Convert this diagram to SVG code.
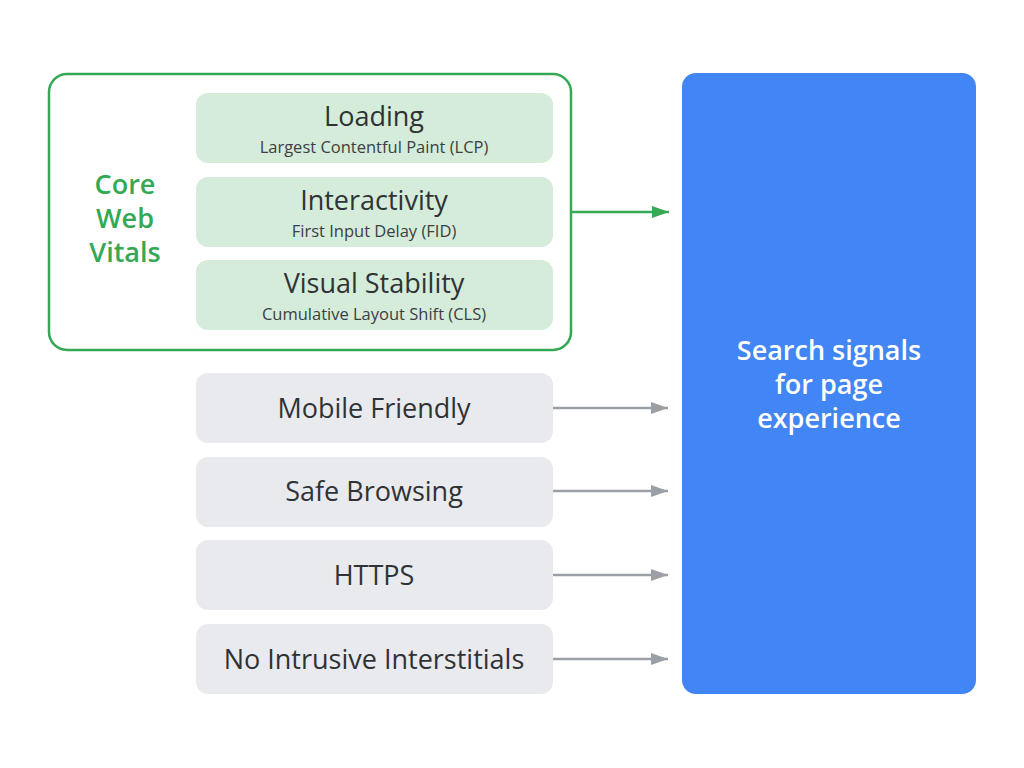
<svg xmlns="http://www.w3.org/2000/svg" width="1024" height="768" viewBox="0 0 1024 768">
<defs>
<marker id="ay" markerWidth="20" markerHeight="12" refX="17" refY="6" orient="auto" markerUnits="userSpaceOnUse"><path d="M0,0 L17,6 L0,12 Z" fill="#9aa0a6"/></marker>
<marker id="agr" markerWidth="20" markerHeight="12" refX="17" refY="6" orient="auto" markerUnits="userSpaceOnUse"><path d="M0,0 L17,6 L0,12 Z" fill="#34a853"/></marker>
<style>
text{font-family:"Open Sans","Liberation Sans",sans-serif;text-anchor:middle}
.cwv{fill:#d4ecd9}
.gray{fill:#e8eaed}
.t{font-size:27px;font-weight:500;fill:#303336}
.s{font-size:16.5px;font-weight:500;fill:#3c4043}
.g{font-size:27px;font-weight:600;fill:#34a853}
.w{font-size:27px;font-weight:600;fill:#ffffff}
</style>
</defs>
<rect width="1024" height="768" fill="#ffffff"/>
<g id="core-web-vitals">
<rect x="49" y="74" width="522" height="276" rx="18" fill="none" stroke="#34a853" stroke-width="2.5"/>
<text class="g" x="125" y="194">Core</text>
<text class="g" x="125" y="228">Web</text>
<text class="g" x="125" y="262">Vitals</text>
</g>
<g id="loading">
<rect class="cwv" x="196" y="93" width="357" height="70" rx="12"/>
<text class="t" x="374" y="126">Loading</text>
<text class="s" x="374" y="153">Largest Contentful Paint (LCP)</text>
</g>
<g id="interactivity">
<rect class="cwv" x="196" y="177" width="357" height="70" rx="12"/>
<text class="t" x="374" y="210">Interactivity</text>
<text class="s" x="374" y="237">First Input Delay (FID)</text>
</g>
<g id="visual-stability">
<rect class="cwv" x="196" y="260" width="357" height="70" rx="12"/>
<text class="t" x="374" y="293">Visual Stability</text>
<text class="s" x="374" y="320">Cumulative Layout Shift (CLS)</text>
</g>
<g id="mobile-friendly">
<rect class="gray" x="196" y="373" width="357" height="70" rx="12"/>
<text class="t" x="374" y="418">Mobile Friendly</text>
</g>
<g id="safe-browsing">
<rect class="gray" x="196" y="457" width="357" height="70" rx="12"/>
<text class="t" x="374" y="501">Safe Browsing</text>
</g>
<g id="https">
<rect class="gray" x="196" y="540" width="357" height="70" rx="12"/>
<text class="t" x="374" y="585">HTTPS</text>
</g>
<g id="no-intrusive-interstitials">
<rect class="gray" x="196" y="624" width="357" height="70" rx="12"/>
<text class="t" x="374" y="669">No Intrusive Interstitials</text>
</g>
<g id="search-signals">
<rect x="682" y="73" width="294" height="621" rx="14" fill="#4285f4"/>
<text class="w" x="829" y="360">Search signals</text>
<text class="w" x="829" y="394">for page</text>
<text class="w" x="829" y="428">experience</text>
</g>
<g id="connectors" fill="none" stroke-width="2.5">
<line x1="572" y1="212" x2="669" y2="212" stroke="#34a853" marker-end="url(#agr)"/>
<line x1="553" y1="408" x2="668" y2="408" stroke="#9aa0a6" marker-end="url(#ay)"/>
<line x1="553" y1="491" x2="668" y2="491" stroke="#9aa0a6" marker-end="url(#ay)"/>
<line x1="553" y1="575" x2="668" y2="575" stroke="#9aa0a6" marker-end="url(#ay)"/>
<line x1="553" y1="659" x2="668" y2="659" stroke="#9aa0a6" marker-end="url(#ay)"/>
</g>
</svg>
